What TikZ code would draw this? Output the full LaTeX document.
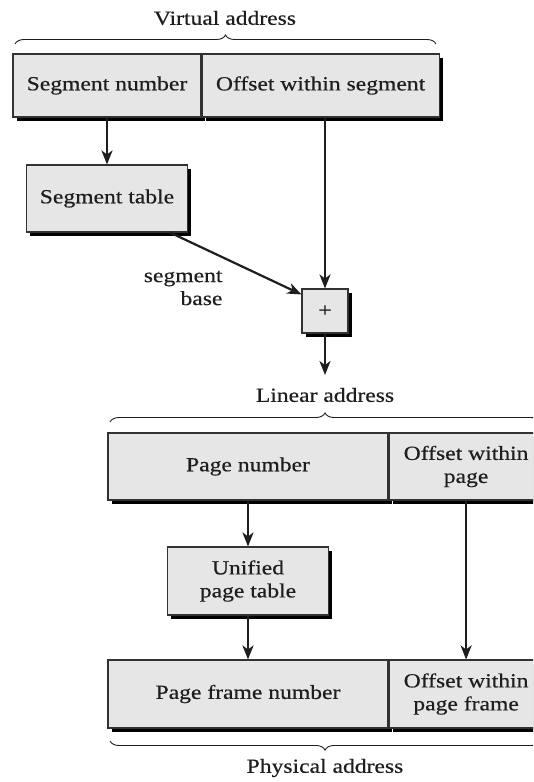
\documentclass[tikz,border=0pt]{standalone}
\usepackage{fontspec}
\setmainfont{Liberation Serif}[FakeStretch=1.18,FakeBold=0.5]
\usetikzlibrary{arrows.meta,positioning,shadows,decorations.pathreplacing}
\definecolor{cellgray}{RGB}{230,230,231}
\definecolor{edgegray}{RGB}{50,50,50}
\definecolor{inkgray}{RGB}{30,30,30}

\begin{document}
\begin{tikzpicture}[x=1pt,y=-1pt,
      cell/.style={draw=edgegray,fill=cellgray,line width=1.1pt,
                   inner sep=0pt,align=center,text=inkgray,
                   font=\fontsize{20}{23}\selectfont,
                   drop shadow={shadow xshift=3.5pt,shadow yshift=-3.5pt,
                                fill=black,opacity=1}},
      lbl/.style={text=inkgray,font=\fontsize{20}{23}\selectfont,align=center},
      brc/.style={decorate,decoration={brace,amplitude=9pt},
                  draw=inkgray,line width=0.9pt},
      arr/.style={-{Stealth[length=14pt,width=11pt,inset=4pt]},
                  inkgray,line width=2.2pt}
    ]
      \useasboundingbox (0,0) rectangle (533,782);
      \clip (0,0) rectangle (533,782);
      % virtual address
      \node[lbl] (virtlbl) at (225,18) {Virtual address};
      \draw[brc] (15,44) -- (436,44);
      \node[cell,minimum width=188pt,minimum height=63pt] (segnum) at (107,85.5) {Segment number};
      \node[cell,minimum width=237pt,minimum height=63pt,right=0pt of segnum] (segoff) {Offset within segment};
      % segment stage
      \node[cell,minimum width=161pt,minimum height=67pt] (segtab) at (107,198.5) {Segment table};
      \node[cell,minimum width=46pt,minimum height=44pt] (plus) at (325,311) {+};
      \node[lbl,anchor=east,align=right] (seglbl) at (226,288) {segment\\base};
      \draw[arr] (segnum) -- (segtab);
      \draw[arr] (segoff.south -| plus) -- (plus);
      \draw[arr] ([xshift=-18pt]segtab.south east) -- ([yshift=-6pt]plus.north west);
      \coordinate (linin) at (325,375);
      \draw[arr] (plus) -- (linin);
      % linear address
      \node[lbl] (linlbl) at (325,395) {Linear address};
      \draw[brc] (110,422) -- (540,422);
      \node[cell,minimum width=280pt,minimum height=67pt] (pagenum) at (248,466.5) {Page number};
      \node[cell,minimum width=154pt,minimum height=67pt,right=0pt of pagenum] (pageoff) {Offset within\\page};
      % paging stage
      \node[cell,minimum width=161pt,minimum height=68pt] (unitab) at (248,581) {Unified\\page table};
      \node[cell,minimum width=280pt,minimum height=68pt] (framenum) at (248,694) {Page frame number};
      \node[cell,minimum width=154pt,minimum height=68pt,right=0pt of framenum] (frameoff) {Offset within\\page frame};
      \draw[arr] (pagenum) -- (unitab);
      \draw[arr] (unitab) -- (framenum);
      \draw[arr] (pageoff) -- (frameoff);
      % physical address
      \draw[brc] (540,741) -- (110,741);
      \node[lbl] (physlbl) at (325,768) {Physical address};
    \end{tikzpicture}
\end{document}
